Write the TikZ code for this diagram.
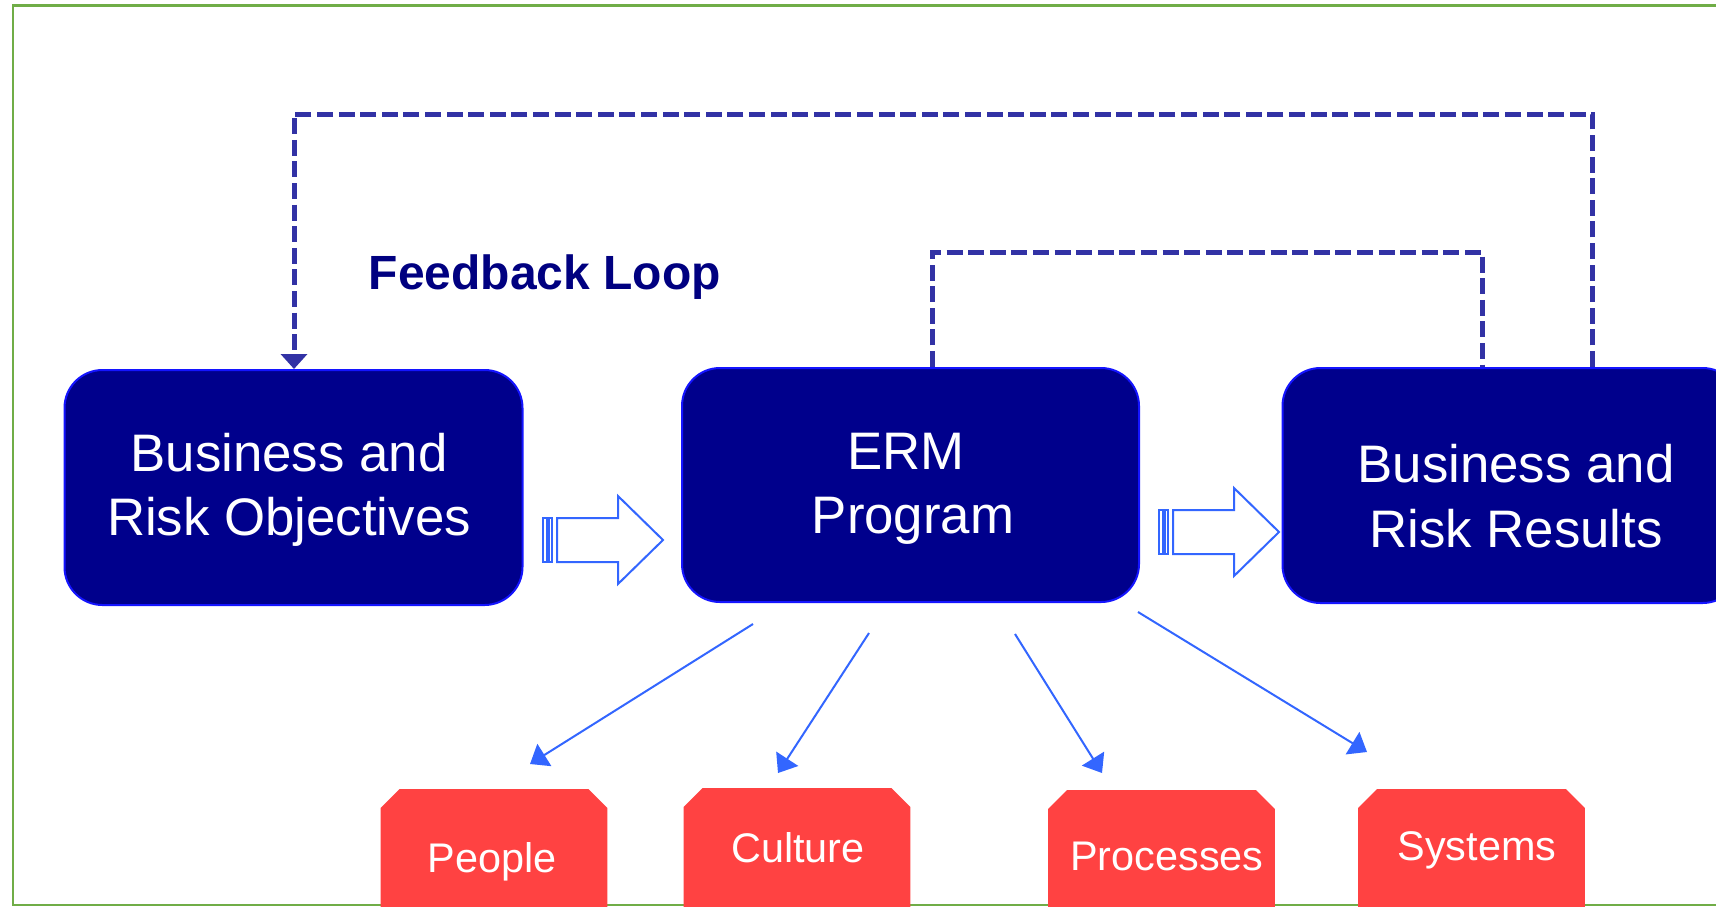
\documentclass[tikz,border=0pt]{standalone}
\usepackage{fontspec}
\setmainfont{Liberation Sans}
\usetikzlibrary{arrows.meta}
\definecolor{boxfill}{RGB}{0,0,140}
\definecolor{boxedge}{RGB}{20,20,255}
\definecolor{loopblue}{RGB}{50,50,165}
\definecolor{linkblue}{RGB}{51,102,255}
\definecolor{areared}{RGB}{255,66,66}
\definecolor{framegreen}{RGB}{112,173,71}
\definecolor{titlenavy}{RGB}{0,0,128}

\begin{document}
\begin{tikzpicture}[x=0.5pt,y=-0.5pt,
  bluebox/.style={draw=boxedge, fill=boxfill, line width=1pt, rounded corners=19pt,
    minimum width=229pt, minimum height=117.5pt, inner sep=0pt},
  boxtext/.style={text=white, align=center, font=\fontsize{26.4}{32.3}\selectfont, inner sep=0pt},
  redbox/.style={rectangle, minimum width=113pt, minimum height=75pt, inner sep=0pt, anchor=north},
  redtext/.style={text=white, font=\fontsize{20.7}{24}\selectfont, anchor=base, inner sep=0pt},
  loop/.style={draw=loopblue, line width=2.5pt, dash pattern=on 8pt off 2.8pt},
  link/.style={draw=linkblue, fill=linkblue, line width=1pt, -{Triangle[width=13pt,length=8.5pt]}},
  blockarrow/.style={draw=linkblue, line width=1pt, fill=white, line join=miter},
  stripearrow/.pic={
    \draw[blockarrow] (0,-22) rectangle (4,22);
    \draw[blockarrow] (5.5,-22) rectangle (9,22);
    \draw[blockarrow] (14,-22) -- (75,-22) -- (75,-44) -- (120,0) -- (75,44) -- (75,22) -- (14,22) -- cycle;
  },
]
\useasboundingbox (0,0) rectangle (1716,906);
\clip (0,0) rectangle (1716,906);

% outer frame
\draw[framegreen, line width=1.25pt] (13,5.5) rectangle (1780,905);

% main stages
\node[bluebox] (b1) at (293.5,487.5) {};
\node[bluebox, minimum width=228.5pt, minimum height=117pt] (b2) at (910.5,485) {};
\node[bluebox] (b3) at (1511.5,485.5) {};

\node[boxtext] (t1) at (289,490) {Business and\\Risk Objectives};
\node[boxtext] (t2) at (913,489) {ERM\hphantom{\ }\\Program};
\node[boxtext] (t3) at (1516,496) {Business and\\Risk Results};

% striped block arrows between stages
\pic (ba1) at (543,540) {stripearrow};
\pic (ba2) at (1159,532) {stripearrow};

% feedback loops
\coordinate (oL) at (294,114);
\coordinate (oR) at (1592,114);
\coordinate (iL) at (932,252);
\coordinate (iR) at (1482,252);
\draw[loop, -{Triangle[width=13pt,length=7.5pt]}] (b3.north -| oR) -- (oR) -- (oL) -- (b1.north -| oL);
\draw[loop] (b2.north -| iL) -- (iL) -- (iR) -- (b3.north -| iR);

\node[font=\bfseries\fontsize{24}{28}\selectfont, text=titlenavy, anchor=base west, inner sep=0pt]
  (fb) at (368.5,289) {Feedback Loop};

% elements of the program: boxes with chamfered top corners
\node[redbox] (rp) at (494,789) {};
\node[redbox] (rc) at (797,788) {};
\node[redbox] (rpr) at (1161.5,790) {};
\node[redbox] (rs) at (1471.5,789) {};
\foreach \r in {rp,rc,rpr,rs}{
  \fill[areared] (\r.south west) -- ([yshift=-9.5pt]\r.north west) -- ([xshift=9.5pt]\r.north west)
    -- ([xshift=-9.5pt]\r.north east) -- ([yshift=-9.5pt]\r.north east) -- (\r.south east) -- cycle;
}

\node[redtext] (tp) at (492,872) {People};
\node[redtext] (tc) at (798,862) {Culture};
\node[redtext] (tpr) at (1167,870) {Processes};
\node[redtext] (ts) at (1477,860) {Systems};

\coordinate (p1s) at (753,624);  \coordinate (p1e) at (530,764);
\coordinate (p2s) at (869,633);  \coordinate (p2e) at (778,773);
\coordinate (p3s) at (1015,634); \coordinate (p3e) at (1102,773);
\coordinate (p4s) at (1138,612); \coordinate (p4e) at (1367,752);
\draw[link] (p1s) -- (p1e);
\draw[link] (p2s) -- (p2e);
\draw[link] (p3s) -- (p3e);
\draw[link] (p4s) -- (p4e);
\end{tikzpicture}
\end{document}
